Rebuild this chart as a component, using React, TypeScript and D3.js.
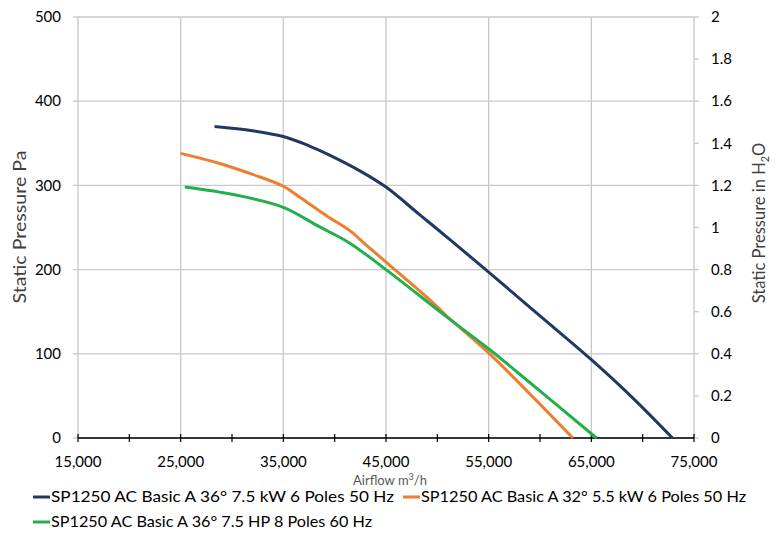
import React from "react";
import * as d3 from "d3";

const xTicks = [15000, 25000, 35000, 45000, 55000, 65000, 75000];
const yTicksLeft = [0, 100, 200, 300, 400, 500];
const yTicksRight = [0, 0.2, 0.4, 0.6, 0.8, 1, 1.2, 1.4, 1.6, 1.8, 2];

const seriesNames = [
  "SP1250 AC Basic A 36° 7.5 kW 6 Poles 50 Hz",
  "SP1250 AC Basic A 32° 5.5 kW 6 Poles 50 Hz",
  "SP1250 AC Basic A 36° 7.5 HP 8 Poles 60 Hz",
];
const seriesColors = ["#1F3864", "#ED7D31", "#22B04B"];

const navyFlow = [28300, 32000, 35000, 37500, 39500, 42500, 45000, 48300, 51200, 55000, 60000, 65000, 69000, 72900];
const navyPressure = [370, 365, 358, 347, 336, 317, 298, 265, 236, 197, 145, 93, 48, 0];

const orangeFlow = [25000, 28800, 32000, 35000, 36600, 39200, 41500, 43000, 45000, 49000, 51000, 55000, 63200];
const orangePressure = [338, 326, 313, 299, 286, 264, 246, 230, 209, 167, 144, 101, 0];

const greenFlow = [25400, 28800, 31000, 35000, 38500, 41400, 45000, 51000, 55000, 58000, 65500];
const greenPressure = [298, 292, 287, 274, 251, 232, 200, 143, 106, 76, 0];

const flows = [navyFlow, orangeFlow, greenFlow];
const pressures = [navyPressure, orangePressure, greenPressure];

const FONT = "Lato, 'Open Sans', sans-serif";

export default function App() {
  const W = 782, H = 534;
  const left = 78, right = 694, top = 17, bottom = 438;
  const x = d3.scaleLinear().domain([15000, 75000]).range([left, right]);
  const y = d3.scaleLinear().domain([0, 500]).range([bottom, top]);
  const y2 = d3.scaleLinear().domain([0, 2]).range([bottom, top]);
  const line = d3
    .line<[number, number]>()
    .x((d) => x(d[0]))
    .y((d) => y(d[1]))
    .curve(d3.curveCatmullRom.alpha(0.5));
  const fmt = d3.format(",");
  const minorX = d3.range(15000, 75001, 5000);
  const grid = "#C8C8C8";
  const legendPos = [
    [33, 497, 343],
    [403, 497, 325],
    [33, 522, 321],
  ];

  return (
    <svg width={W} height={H} style={{ position: "absolute", left: 0, top: 0, background: "#fff" }} fontFamily={FONT}>
      {yTicksLeft.map((t) => (
        <line key={"gy" + t} x1={left} x2={right} y1={y(t)} y2={y(t)} stroke={grid} strokeWidth={1.3} />
      ))}
      {xTicks.map((t) => (
        <line key={"gx" + t} x1={x(t)} x2={x(t)} y1={top} y2={bottom} stroke={grid} strokeWidth={1.3} />
      ))}
      {yTicksLeft.map((t) => (
        <line key={"lt" + t} x1={left - 5} x2={left} y1={y(t)} y2={y(t)} stroke={grid} strokeWidth={1.3} />
      ))}
      {yTicksRight.map((t) => (
        <line key={"rt" + t} x1={right} x2={right + 5} y1={y2(t)} y2={y2(t)} stroke={grid} strokeWidth={1.3} />
      ))}
      <line x1={left} x2={right} y1={bottom} y2={bottom} stroke="#000" strokeWidth={1.3} />
      {minorX.map((t) => (
        <line key={"bt" + t} x1={x(t)} x2={x(t)} y1={bottom - 4} y2={bottom + 4} stroke="#000" strokeWidth={1.2} />
      ))}
      {flows.map((f, i) => (
        <path
          key={"s" + i}
          d={line(f.map((v, j) => [v, pressures[i][j]] as [number, number])) || ""}
          fill="none"
          stroke={seriesColors[i]}
          strokeWidth={3}
          strokeLinejoin="round"
        />
      ))}
      {yTicksLeft.map((t) => (
        <text key={"ll" + t} x={61} y={y(t)} dy="0.35em" textAnchor="end" fontSize={15} fill="#000">
          {t}
        </text>
      ))}
      {yTicksRight.map((t) => (
        <text key={"rl" + t} x={711} y={y2(t)} dy="0.35em" textAnchor="start" fontSize={15} fill="#000">
          {String(t)}
        </text>
      ))}
      {xTicks.map((t) => (
        <text key={"xl" + t} x={x(t)} y={462} dy="0.35em" textAnchor="middle" fontSize={15} fill="#000">
          {fmt(t)}
        </text>
      ))}
      <text
        transform={`translate(26,227) rotate(-90)`}
        textAnchor="middle"
        fontSize={16.5}
        fill="#404040"
        textLength={153}
        lengthAdjust="spacingAndGlyphs"
      >
        Static Pressure Pa
      </text>
      <text transform={`translate(765,223) rotate(-90)`} textAnchor="middle" fontSize={16.5} fill="#404040">
        Static Pressure in H<tspan fontSize={11} dy={4}>2</tspan><tspan dy={-4}>O</tspan>
      </text>
      <text x={390} y={485} textAnchor="middle" fontSize={13} fill="#595959">
        Airflow m<tspan fontSize={9} dy={-5}>3</tspan><tspan dy={5}>/h</tspan>
      </text>
      {legendPos.map(([lx, ly, len], i) => (
        <g key={"lg" + i}>
          <line x1={lx} x2={lx + 17} y1={ly} y2={ly} stroke={seriesColors[i]} strokeWidth={3} />
          <text x={lx + 18} y={ly} dy="0.35em" fontSize={15} fill="#000" textLength={len} lengthAdjust="spacingAndGlyphs">
            {seriesNames[i]}
          </text>
        </g>
      ))}
    </svg>
  );
}
